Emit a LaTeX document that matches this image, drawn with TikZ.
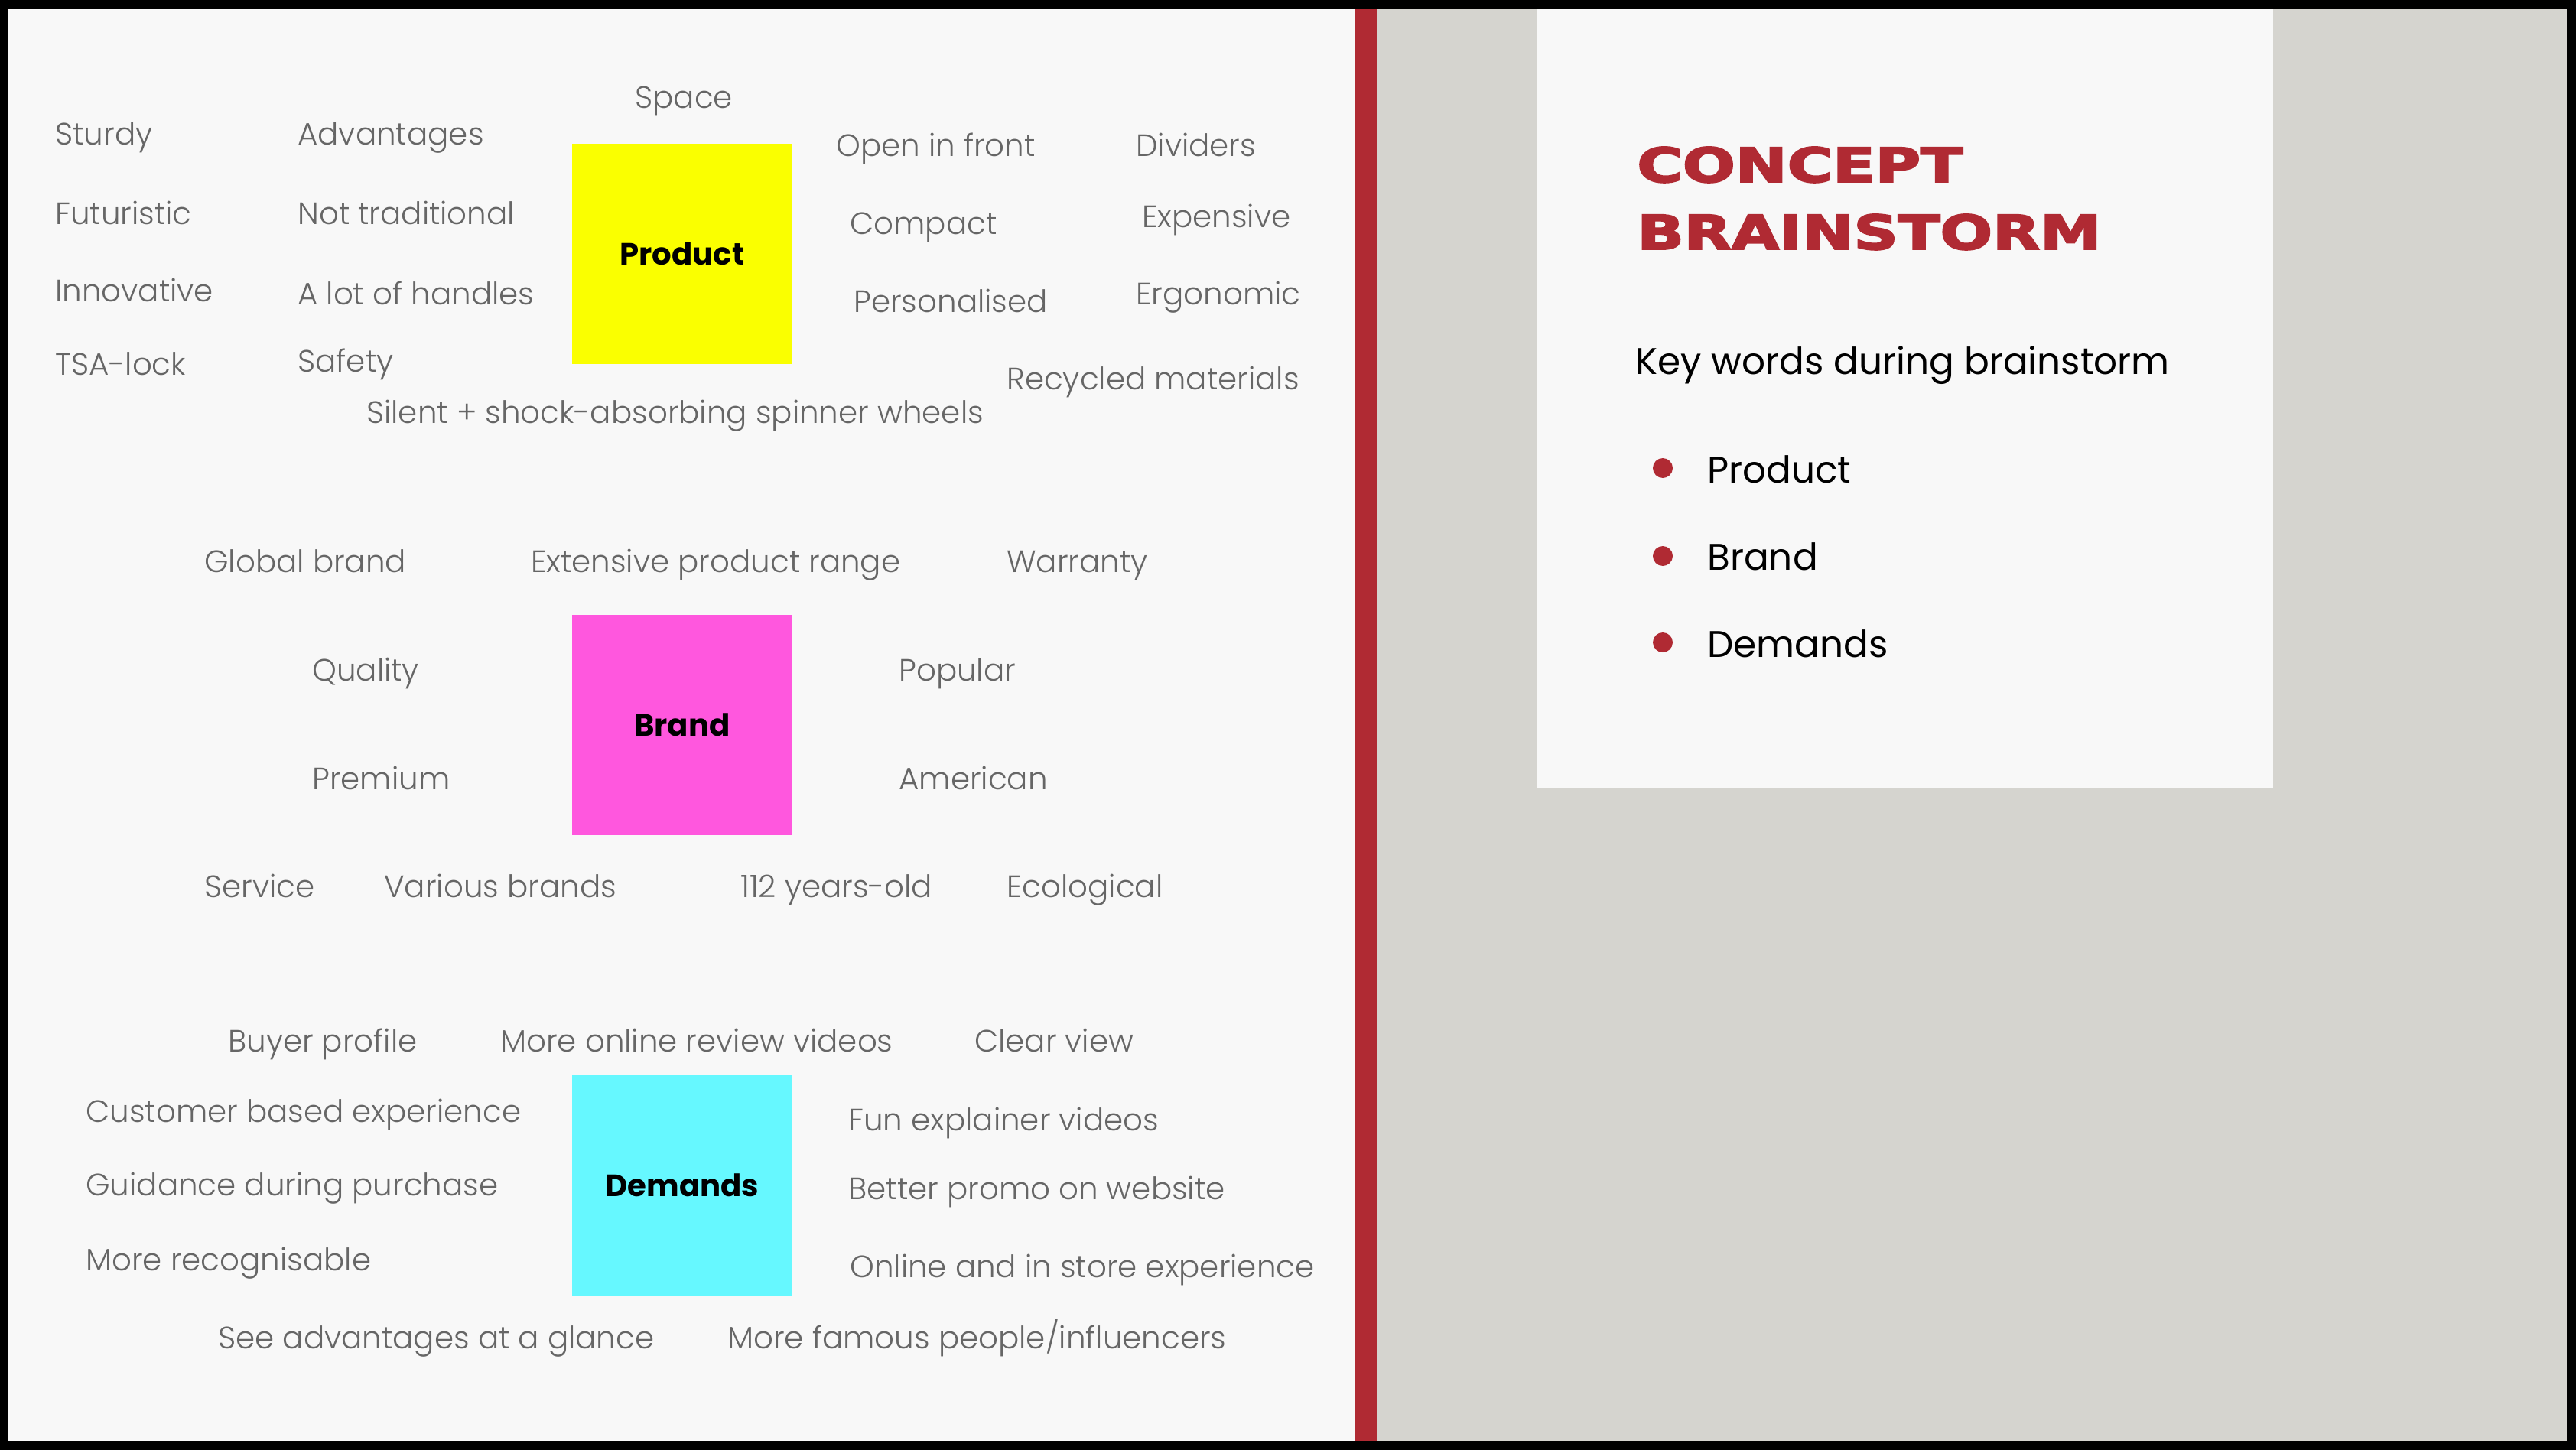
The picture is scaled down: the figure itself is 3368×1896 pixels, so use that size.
\documentclass[tikz,border=0pt]{standalone}
\usepackage{fontspec}
\setmainfont{Poppins}
\newfontfamily\wordfont{Poppins Light}
\newfontfamily\labelfont{Poppins Bold}
\newfontfamily\titlefont{DejaVu Sans Bold}[FakeBold=3]
\definecolor{paper}{HTML}{F8F8F8}
\definecolor{panel}{HTML}{D5D4CF}
\definecolor{accent}{HTML}{B02A33}
\definecolor{wordgrey}{HTML}{666666}
\definecolor{notey}{HTML}{FAFF00}
\definecolor{notep}{HTML}{FF57DE}
\definecolor{notec}{HTML}{66F8FF}
\tikzset{
  word/.style={anchor=base west, inner sep=0pt, text=wordgrey,
    font=\wordfont\fontsize{23}{27}\selectfont},
  note/.style={inner sep=0pt, minimum width=5.76cm, minimum height=5.76cm,
    font=\labelfont\fontsize{22.9}{27}\selectfont, text=black},
  keyword/.style={anchor=base west, inner sep=0pt, text=black,
    font=\fontsize{27.6}{32}\selectfont},
  bulletdot/.style={circle, fill=accent, inner sep=0pt, minimum size=0.52cm},
  titleline/.style={anchor=base west, inner sep=0pt, text=accent}
}
\begin{document}
\begin{tikzpicture}[x=0.02cm,y=-0.02cm]
% frame and backgrounds
\fill[black] (0,0) rectangle (3368,1896);
\fill[paper] (11,12) rectangle (1771,1884);
\fill[accent] (1771,12) rectangle (1801,1884);
\fill[panel] (1801,12) rectangle (3356,1884);
\fill[paper] (2009,12) rectangle (2972,1031);
\useasboundingbox (0,0) rectangle (3368,1896);

% sticky notes
\node[note, fill=notey] (product) at (892,332) {Product};
\node[note, fill=notep] (brand) at (892,948) {Brand};
\node[note, fill=notec] (demands) at (892,1550) {Demands};

% product words
\node[word] (space) at (830,142) {Space};
\node[word] (sturdy) at (72,190) {Sturdy};
\node[word] (advantages) at (389,190) {Advantages};
\node[word] (openfront) at (1093,204) {Open in front};
\node[word] (dividers) at (1485,204) {Dividers};
\node[word] (futuristic) at (72,293) {Futuristic};
\node[word] (nottrad) at (389,293) {Not traditional};
\node[word] (compact) at (1111,306) {Compact};
\node[word] (expensive) at (1493,297) {Expensive};
\node[word] (innovative) at (72,394) {Innovative};
\node[word] (handles) at (389,398) {A lot of handles};
\node[word] (personalised) at (1116,408) {Personalised};
\node[word] (ergonomic) at (1485,398) {Ergonomic};
\node[word] (tsalock) at (72,490) {TSA-lock};
\node[word] (safety) at (389,486) {Safety};
\node[word] (recycled) at (1316,509) {Recycled materials};
\node[word] (wheels) at (479,553) {Silent + shock-absorbing spinner wheels};

% brand words
\node[word] (global) at (267,748) {Global brand};
\node[word] (range) at (694,748) {Extensive product range};
\node[word] (warranty) at (1316,748) {Warranty};
\node[word] (quality) at (408,890) {Quality};
\node[word] (popular) at (1175,890) {Popular};
\node[word] (premium) at (408,1032) {Premium};
\node[word] (american) at (1175,1032) {American};
\node[word] (service) at (267,1173) {Service};
\node[word] (various) at (502,1173) {Various brands};
\node[word] (years) at (968,1173) {112 years-old};
\node[word] (ecological) at (1316,1173) {Ecological};

% demands words
\node[word] (buyer) at (298,1375) {Buyer profile};
\node[word] (reviews) at (654,1375) {More online review videos};
\node[word] (clearview) at (1274,1375) {Clear view};
\node[word] (customer) at (112,1467) {Customer based experience};
\node[word] (explainer) at (1109,1478) {Fun explainer videos};
\node[word] (guidance) at (112,1563) {Guidance during purchase};
\node[word] (promo) at (1109,1568) {Better promo on website};
\node[word] (recognisable) at (112,1661) {More recognisable};
\node[word] (instore) at (1111,1670) {Online and in store experience};
\node[word] (glance) at (285,1763) {See advantages at a glance};
\node[word] (famous) at (951,1763) {More famous people/influencers};

% summary card
\node[titleline] (title1) at (2140,238) {\resizebox{8.52cm}{0.92cm}{\titlefont CONCEPT}};
\node[titleline] (title2) at (2140,326) {\resizebox{12.14cm}{0.92cm}{\titlefont BRAINSTORM}};
\node[keyword] (subtitle) at (2138,489) {Key words during brainstorm};
\node[bulletdot] (dot1) at (2174,612) {};
\node[bulletdot] (dot2) at (2174,727) {};
\node[bulletdot] (dot3) at (2174,840) {};
\node[keyword] (item1) at (2232,631) {Product};
\node[keyword] (item2) at (2232,745) {Brand};
\node[keyword] (item3) at (2232,859) {Demands};
\end{tikzpicture}
\end{document}
